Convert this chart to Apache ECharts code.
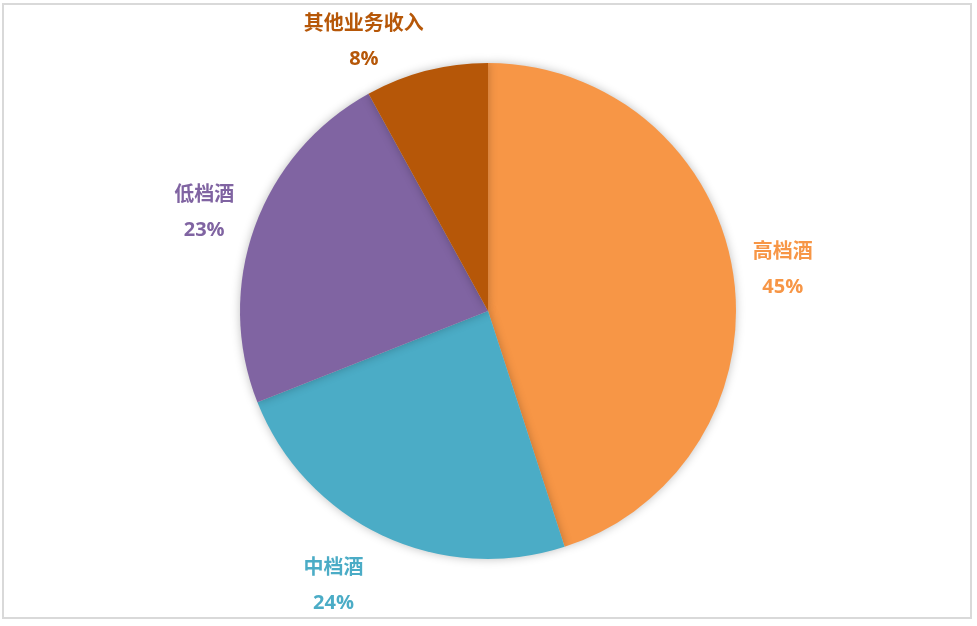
<!DOCTYPE html>
<html>
<head>
<meta charset="utf-8">
<script src="https://cdn.jsdelivr.net/npm/echarts@6/dist/echarts.min.js"></script>
<style>
html,body{margin:0;padding:0;background:#fff;}
#frame{position:absolute;left:2px;top:3px;width:970px;height:616px;border:2px solid #d9d9d9;box-sizing:border-box;}
#chart{position:absolute;left:0;top:0;width:977px;height:626px;}
</style>
</head>
<body>
<div id="frame"></div>
<div id="chart"></div>
<script>
const categories = ['高档酒', '中档酒', '低档酒', '其他业务收入'];
const values = [45, 24, 23, 8];
const colors = ['#F79646', '#4BACC6', '#8064A2', '#B65708'];
const labelGaps = [15, 56, 42, 30];
const labelShifts = [0, -10, -24, -10];

const chart = echarts.init(document.getElementById('chart'), null, {renderer: 'canvas'});
chart.setOption({
  animation: false,
  series: [{
    type: 'pie',
    center: [488, 311],
    radius: 248,
    startAngle: 90,
    clockwise: true,
    avoidLabelOverlap: false,
    data: categories.map((c, i) => ({
      name: c,
      value: values[i],
      itemStyle: {color: colors[i]},
      label: {color: colors[i]},
      labelLine: {show: false, length: labelGaps[i], length2: labelShifts[i]}
    })),
    itemStyle: {
      borderWidth: 0,
      shadowBlur: 10,
      shadowColor: 'rgba(0,0,0,0.25)'
    },
    label: {
      show: true,
      position: 'outside',
      formatter: p => p.name + '\n' + p.value + '%',
      fontFamily: '"Open Sans", "Noto Sans CJK SC", sans-serif',
      fontWeight: 'bold',
      fontSize: 20,
      lineHeight: 35,
      align: 'center'
    },
    labelLine: {show: false},
    labelLayout: function (params) {
      const r = params.labelRect;
      return {
        x: r.x + r.width / 2,
        y: r.y + r.height / 2,
        align: 'center',
        verticalAlign: 'middle'
      };
    }
  }]
});
</script>
</body>
</html>
